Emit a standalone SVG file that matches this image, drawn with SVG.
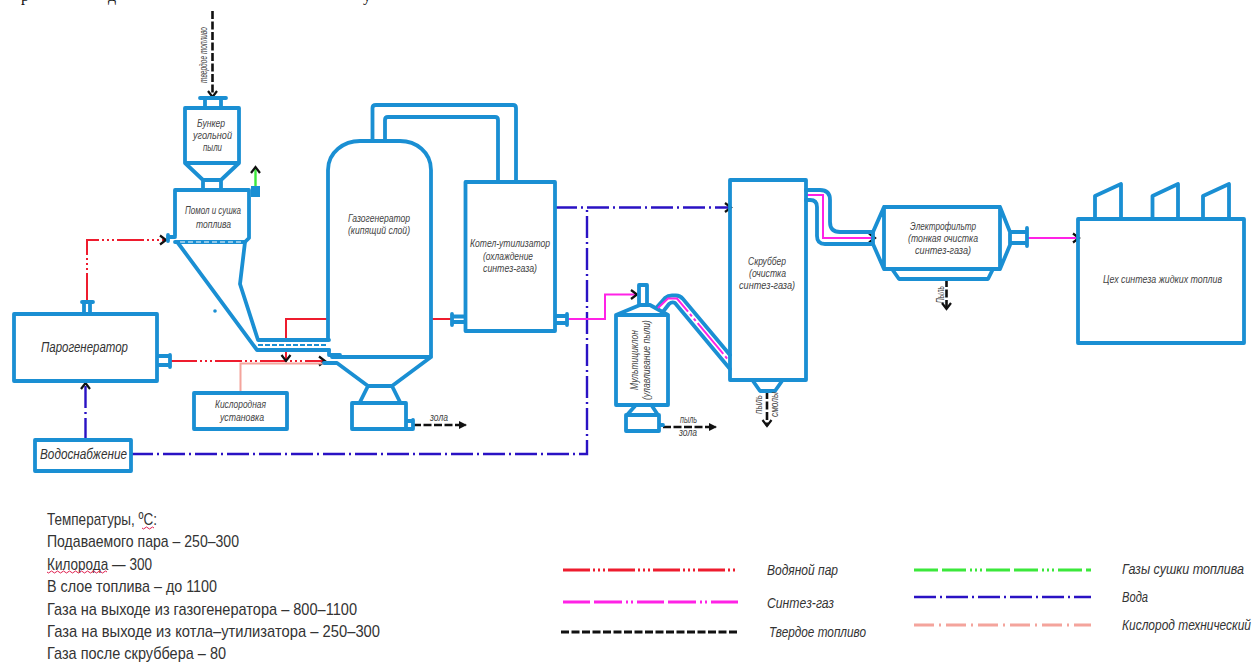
<svg xmlns="http://www.w3.org/2000/svg" width="1254" height="662" viewBox="0 0 1254 662">
<style>
.b{fill:none;stroke:#1a8fd3;stroke-width:3.8;stroke-linejoin:round;stroke-linecap:round}
.c{fill:none;stroke-width:2}
.lg{stroke-width:2.8}
.red{stroke:#ee1c2e;stroke-dasharray:27 3 2 3 2 3 2 3}
.redS{stroke:#ee1c2e}
.mag{stroke:#ff22e6}
.magD{stroke:#ff22e6;stroke-dasharray:27 4 28 4 2 3 2 4}
.blu{stroke:#2a12c4;stroke-width:2.4;stroke-dasharray:22 4 2 4}
.blk{stroke:#111;stroke-dasharray:8 2.5}
.blkT{stroke:#111;stroke-width:2.6;stroke-dasharray:8 2.5}
.grn{stroke:#3be83b;stroke-width:2.400}
.grnD{stroke:#3be83b;stroke-dasharray:24 4 24 4 2 3 2 3 2 4}
.sal{stroke:#f4a49c}
.salD{stroke:#f4a49c;stroke-dasharray:20 5 2 5}
text{font-family:"Liberation Sans",Arial,sans-serif;font-style:italic;fill:#444;font-size:10px;text-anchor:start}
.k{font-size:14px;fill:#333}
.l{font-size:17px;font-style:normal;fill:#333}
.g{font-size:15px;fill:#333}
.t{font-family:"Liberation Serif",serif;font-style:normal;font-size:16px;fill:#111}
.w{fill:none;stroke:#e02050;stroke-width:1}
</style>
<defs>
<marker id="a" markerUnits="userSpaceOnUse" markerWidth="12" markerHeight="12" refX="9" refY="6" orient="auto"><path d="M3 1.500L9 6L3 10.500" fill="none" stroke="#111" stroke-width="2.200"/></marker>
<marker id="af" markerUnits="userSpaceOnUse" markerWidth="12" markerHeight="12" refX="9" refY="6" orient="auto"><path d="M2 2L10 6L2 10Z" fill="#111"/></marker>
</defs>
<rect width="1254" height="662" fill="#fff"/>
<g id="top-text"><text class="t" x="21" y="1">р</text><text class="t" x="108" y="1">д</text><text class="t" x="363" y="1">у</text></g>

<g id="connectors">
<path class="c blkT" d="M212.500 11V97" marker-end="url(#a)"/>
<path class="c red" d="M87 300V240H166" marker-end="url(#a)"/>
<path class="c grn" d="M255.500 186V167" marker-end="url(#a)"/>
<path class="c red" d="M170 361H325" marker-end="url(#a)"/>
<path class="c redS" d="M286 339V319H328"/>
<path class="c redS" d="M286 350V361" marker-end="url(#a)"/>
<path class="c sal" d="M240.500 393V363.500H323"/>
<path class="c redS" d="M432 319H452"/>
<path class="c blu" d="M85.500 440V383" marker-end="url(#a)"/>
<path class="c blu" d="M131 454H587V207.500"/>
<path class="c blu" d="M555 207.500H731" marker-end="url(#a)"/>
<path class="c mag" d="M567 319H605V294.500H637" marker-end="url(#a)"/>
<path class="c mag" d="M806 195H823V238H875" marker-end="url(#a)"/>
<path class="c mag" d="M1027 238H1079" marker-end="url(#a)"/>
<path class="c blkT" d="M413 425H466" marker-end="url(#af)"/>
<path class="c blkT" d="M663 427H716" marker-end="url(#af)"/>
<path class="c blkT" d="M767 391V426" marker-end="url(#a)"/>
<path class="c blkT" d="M946.500 279V309" marker-end="url(#a)"/>
</g>

<g id="bunker">
<path class="b" d="M200 98H226M205 98V108M221 98V108M185 108H239V163H185ZM185 163L203 180H221L239 163M203 180V190M221 180V190"/>
<text x="197" y="127" textLength="28" lengthAdjust="spacingAndGlyphs">Бункер</text>
<text x="193" y="139" textLength="39" lengthAdjust="spacingAndGlyphs">угольной</text>
<text x="203" y="151" textLength="19" lengthAdjust="spacingAndGlyphs">пыли</text>
</g>
<g id="sushka">
<path class="b" d="M175 236V190H249V238L245 242H175M175 237H168M168 235V241"/>
<rect x="251" y="186" width="9" height="11" fill="#1a8fd3"/>
<path d="M180 242H245" stroke="#fff" stroke-width="1" stroke-dasharray="5 3" fill="none"/>
<text x="185" y="214" textLength="56" lengthAdjust="spacingAndGlyphs">Помол и сушка</text>
<text x="196" y="228" textLength="35" lengthAdjust="spacingAndGlyphs">топлива</text>
</g>
<g id="hopper">
<path class="b" d="M178 243L257 350H329M245 242L240 284L258 340H329"/>
<path d="M258 345H328" stroke="#1a8fd3" stroke-width="2" stroke-dasharray="5 2" fill="none"/>
<circle cx="215" cy="311" r="1.800" fill="#1a8fd3"/>
</g>
<g id="parogenerator">
<path class="b" d="M14 314H157V381H14ZM82 302H93M84 302V314M90 302V314M157 356H170M157 365H170M170 355V367"/>
<text class="k" x="41" y="352" textLength="87" lengthAdjust="spacingAndGlyphs">Парогенератор</text>
</g>
<g id="oxygen">
<path class="b" d="M194 393H287V429H194Z"/>
<text x="215" y="408" textLength="51" lengthAdjust="spacingAndGlyphs">Кислородная</text>
<text x="220" y="421" textLength="44" lengthAdjust="spacingAndGlyphs">установка</text>
</g>
<g id="water">
<path class="b" d="M35 440H131V471H35Z"/>
<text class="k" x="40" y="459" textLength="87" lengthAdjust="spacingAndGlyphs">Водоснабжение</text>
</g>
<g id="gasifier">
<path class="b" d="M328 339V170C328 152 344 141 360 141H400C416 141 431 152 431 170V357H332M431 357L392 386H368L337 363H324M329 350V355H340M368 386L360 402M392 386L400 402M352 403H406V429H352ZM406 421H413M406 429H413M413 420V429"/>
<path class="b" d="M372.500 141V108Q372.500 105 376 105H513Q516 105 516 108V182M385 141V120Q385 117 388 117H495Q498 117 498 120V182"/>
<text x="348" y="222" textLength="62" lengthAdjust="spacingAndGlyphs">Газогенератор</text>
<text x="348" y="234" textLength="62" lengthAdjust="spacingAndGlyphs">(кипящий слой)</text>
<text x="430" y="421" textLength="18" lengthAdjust="spacingAndGlyphs">зола</text>
</g>
<g id="boiler">
<path class="b" d="M465.500 182H555V331H465.500ZM452 316.500H465M452 322H465M452 314V325M555 316H567M555 323H567M567 314V325"/>
<text x="470" y="247" textLength="80" lengthAdjust="spacingAndGlyphs">Котел-утилизатор</text>
<text x="483" y="260" textLength="50" lengthAdjust="spacingAndGlyphs">(охлаждение</text>
<text x="483" y="272" textLength="54" lengthAdjust="spacingAndGlyphs">синтез-газа)</text>
</g>
<g id="cyclone">
<path class="b" d="M616 315H668V405H616ZM616 315L640 305H650L668 315M639 305V285H647V305M635 406L627 415M652 406L658 415M626 415H659V431H626ZM659 425H663"/>
<path class="b" d="M657 307L665 298Q668 295.500 672 295.500H676Q680 295.500 683 299L730 355M662 313L669 304Q672 301.500 675 303L730 369"/>
<path class="c mag" stroke-dasharray="40 3 3 3 3 3" d="M658 308L668 298.500H677L730 362"/>
<text transform="translate(638 390) rotate(-90)" x="0" y="0" textLength="60" lengthAdjust="spacingAndGlyphs">Мультициклон</text>
<text transform="translate(650 400) rotate(-90)" x="0" y="0" textLength="80" lengthAdjust="spacingAndGlyphs">(улавливание пыли)</text>
<text x="680" y="423" textLength="17" lengthAdjust="spacingAndGlyphs">пыль</text>
<text x="679" y="436" textLength="18" lengthAdjust="spacingAndGlyphs">зола</text>
</g>
<g id="scrubber">
<path class="b" d="M730 180H806V380H730ZM753 381L760 391H775L782 381"/>
<path class="b" d="M806 190H820Q830 190 830 200V222Q830 232 840 232H873M806 200H810Q817 200 817 207V236Q817 244 825 244H873"/>
<text x="748" y="265" textLength="38" lengthAdjust="spacingAndGlyphs">Скруббер</text>
<text x="749" y="277" textLength="37" lengthAdjust="spacingAndGlyphs">(очистка</text>
<text x="739" y="289" textLength="56" lengthAdjust="spacingAndGlyphs">синтез-газа)</text>
<text transform="translate(762 414) rotate(-90)" x="0" y="0" textLength="19" lengthAdjust="spacingAndGlyphs">пыль</text>
<text transform="translate(778 417) rotate(-90)" x="0" y="0" textLength="25" lengthAdjust="spacingAndGlyphs">смолы</text>
</g>
<g id="electrofilter">
<path class="b" d="M884 207H1000V269H884ZM884 207L873 232V244L884 269M1000 207L1010 232V245L1000 269M1010 232H1026M1010 243H1026M1027 228V246M892 269L899 279H988L993 269"/>
<text x="910" y="230" textLength="66" lengthAdjust="spacingAndGlyphs">Электрофильтр</text>
<text x="908" y="242" textLength="70" lengthAdjust="spacingAndGlyphs">(тонкая очистка</text>
<text x="915" y="254" textLength="56" lengthAdjust="spacingAndGlyphs">синтез-газа)</text>
<text transform="translate(944 303) rotate(-90)" x="0" y="0" textLength="17" lengthAdjust="spacingAndGlyphs">Пыль</text>
</g>
<g id="shop">
<path class="b" d="M1078 219H1244V343H1078ZM1095 219V196L1121 184V219M1152.500 219V196L1178 184V219M1203 219V196L1229 184V219"/>
<text x="1103" y="283" textLength="119" lengthAdjust="spacingAndGlyphs">Цех синтеза жидких топлив</text>
</g>
<g id="feed-label"><text transform="translate(207 83) rotate(-90)" x="0" y="0" textLength="56" lengthAdjust="spacingAndGlyphs">твердое топливо</text></g>

<g id="temperatures">
<text class="l" x="47" y="525" textLength="110" lengthAdjust="spacingAndGlyphs">Температуры, ºС:</text>
<text class="l" x="47" y="547" textLength="192" lengthAdjust="spacingAndGlyphs">Подаваемого пара – 250–300</text>
<text class="l" x="47" y="570" textLength="105" lengthAdjust="spacingAndGlyphs">Килорода — 300</text>
<text class="l" x="47" y="592" textLength="170" lengthAdjust="spacingAndGlyphs">В слое топлива – до 1100</text>
<text class="l" x="47" y="615" textLength="310" lengthAdjust="spacingAndGlyphs">Газа на выходе из газогенератора – 800–1100</text>
<text class="l" x="47" y="637" textLength="333" lengthAdjust="spacingAndGlyphs">Газа на выходе из котла–утилизатора – 250–300</text>
<text class="l" x="47" y="659" textLength="179" lengthAdjust="spacingAndGlyphs">Газа после скруббера – 80</text>
<path class="w" d="M142 528q1.500 2 3 0t3 0t3 0t3 0M47 572q1.500 2 3 0t3 0t3 0t3 0t3 0t3 0t3 0t3 0t3 0t3 0t3 0t3 0t3 0t3 0t3 0t3 0t3 0t3 0t3 0t3 0"/>
</g>
<g id="legend">
<path class="c lg red" d="M563 570H738"/><text class="g" x="767" y="575" textLength="71" lengthAdjust="spacingAndGlyphs">Водяной пар</text>
<path class="c lg magD" d="M563 602H738"/><text class="g" x="767" y="608" textLength="67" lengthAdjust="spacingAndGlyphs">Синтез-газ</text>
<path class="c lg blk" d="M561 632H738"/><text class="g" x="769" y="637" textLength="97" lengthAdjust="spacingAndGlyphs">Твердое топливо</text>
<path class="c lg grnD" d="M914 570H1091"/><text class="g" x="1122" y="574" textLength="122" lengthAdjust="spacingAndGlyphs">Газы сушки топлива</text>
<path class="c lg blu" d="M914 597H1091"/><text class="g" x="1122" y="602" textLength="26" lengthAdjust="spacingAndGlyphs">Вода</text>
<path class="c lg salD" d="M914 625H1091"/><text class="g" x="1122" y="630" textLength="129" lengthAdjust="spacingAndGlyphs">Кислород технический</text>
</g>
</svg>
